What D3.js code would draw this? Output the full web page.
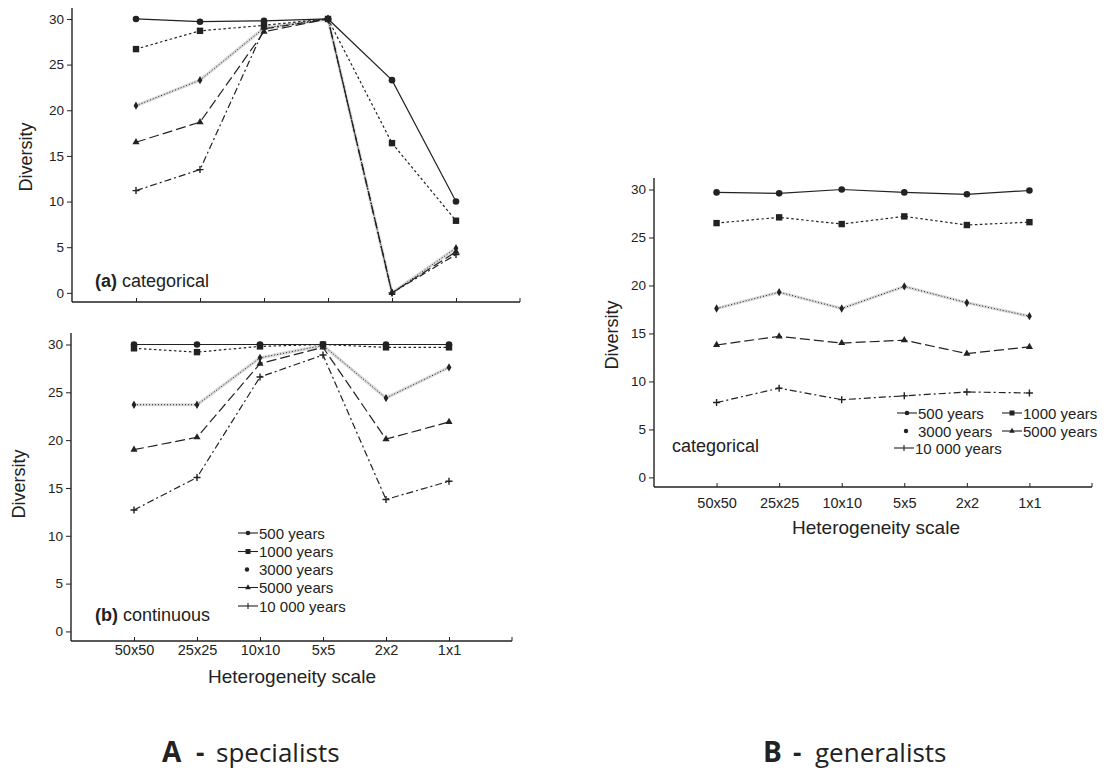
<!DOCTYPE html>
<html>
<head>
<meta charset="utf-8">
<script src="https://cdn.jsdelivr.net/npm/d3@7"></script>
<style>
  html, body { margin: 0; padding: 0; background: #fff; }
  svg { display: block; font-family: "Liberation Sans", Arial, Helvetica, sans-serif; }
</style>
</head>
<body>
<svg id="chart" width="1115" height="775"></svg>
<script>
// Heterogeneity scales (x categories) and simulation horizons (series)
const scales = ["50x50", "25x25", "10x10", "5x5", "2x2", "1x1"];
const periods = ["500 years", "1000 years", "3000 years", "5000 years", "10 000 years"];
const yTicks = [0, 5, 10, 15, 20, 25, 30];

// A (a) specialists, categorical landscape
const specCat500   = [30.0, 29.7, 29.8, 30.0, 23.3, 10.0];
const specCat1000  = [26.7, 28.7, 29.3, 30.0, 16.4, 7.9];
const specCat3000  = [20.5, 23.3, 29.0, 30.0, 0.0, 4.9];
const specCat5000  = [16.5, 18.7, 28.6, 30.0, 0.0, 4.5];
const specCat10000 = [11.2, 13.5, 28.9, 30.0, 0.0, 4.2];

// A (b) specialists, continuous landscape
const specCont500   = [30.0, 30.0, 30.0, 30.0, 30.0, 30.0];
const specCont1000  = [29.6, 29.2, 29.8, 30.0, 29.7, 29.7];
const specCont3000  = [23.7, 23.7, 28.6, 29.9, 24.4, 27.6];
const specCont5000  = [19.0, 20.3, 28.0, 29.7, 20.1, 21.9];
const specCont10000 = [12.7, 16.1, 26.6, 28.9, 13.8, 15.7];

// B generalists, categorical landscape
const genCat500   = [29.7, 29.6, 30.0, 29.7, 29.5, 29.9];
const genCat1000  = [26.5, 27.1, 26.4, 27.2, 26.3, 26.6];
const genCat3000  = [17.6, 19.3, 17.6, 19.9, 18.2, 16.8];
const genCat5000  = [13.8, 14.7, 14.0, 14.3, 12.9, 13.6];
const genCat10000 = [7.8, 9.3, 8.1, 8.5, 8.9, 8.8];

// Line and marker style per series (same order as periods)
const seriesStyle = [
  { dash: null,        marker: "circle",  halo: false },
  { dash: "2.5,2.5",   marker: "square",  halo: false },
  { dash: "1,2",       marker: "dot",     halo: true  },
  { dash: "10,4",      marker: "triangle",halo: false },
  { dash: "7,3,2,3",   marker: "plus",    halo: false }
];

const ink = "#222";
const svg = d3.select("#chart");
svg.append("rect").attr("width", 1115).attr("height", 775).attr("fill", "#fff");

function drawMarker(g, kind, cx, cy) {
  if (kind === "circle") {
    g.append("circle").attr("cx", cx).attr("cy", cy).attr("r", 3.3).attr("fill", ink);
  } else if (kind === "square") {
    g.append("rect").attr("x", cx - 3.2).attr("y", cy - 3.2).attr("width", 6.4).attr("height", 6.4).attr("fill", ink);
  } else if (kind === "dot") {
    g.append("path").attr("d", d3.symbol(d3.symbolDiamond, 20)()).attr("transform", `translate(${cx},${cy})`).attr("fill", ink);
  } else if (kind === "triangle") {
    g.append("path").attr("d", d3.symbol(d3.symbolTriangle, 22)()).attr("transform", `translate(${cx},${cy})`).attr("fill", ink);
  } else if (kind === "plus") {
    g.append("path").attr("d", `M${cx - 3.5},${cy}H${cx + 3.5}M${cx},${cy - 3.5}V${cy + 3.5}`)
      .attr("stroke", ink).attr("stroke-width", 1.4).attr("fill", "none");
  }
}

function drawPanel(cfg) {
  const g = svg.append("g");
  const x = d3.scalePoint().domain(scales).range(cfg.xr).padding(1);
  const y = d3.scaleLinear().domain([-1, 31.2]).range(cfg.yr);

  // y axis
  const ya = g.append("g").attr("transform", `translate(${cfg.xr[0]},0)`)
    .call(d3.axisLeft(y).tickValues(yTicks).tickSize(5).tickPadding(3));
  ya.select(".domain").remove();
  ya.selectAll(".tick line").attr("stroke", ink).attr("stroke-width", 1);
  ya.selectAll(".tick text").attr("font-size", 13.5).attr("fill", ink)
    .attr("font-family", "Liberation Sans, Arial, sans-serif");
  g.append("line").attr("x1", cfg.xr[0]).attr("x2", cfg.xr[0])
    .attr("y1", cfg.yr[1]).attr("y2", cfg.yr[0]).attr("stroke", ink).attr("stroke-width", 1.4);

  // x axis
  const xa = g.append("g").attr("transform", `translate(0,${cfg.yr[0]})`)
    .call(d3.axisBottom(x).tickSize(-4).tickPadding(cfg.xPad).tickFormat(cfg.xLabels ? (d => d) : (() => "")));
  xa.select(".domain").remove();
  xa.selectAll(".tick line").attr("stroke", ink).attr("stroke-width", 1);
  xa.selectAll(".tick text").attr("font-size", 14.5).attr("fill", ink)
    .attr("font-family", "Liberation Sans, Arial, sans-serif");
  g.append("line").attr("x1", cfg.xr[0]).attr("x2", cfg.xr[1])
    .attr("y1", cfg.yr[0]).attr("y2", cfg.yr[0]).attr("stroke", ink).attr("stroke-width", 1.4);
  g.append("line").attr("x1", cfg.xr[1]).attr("x2", cfg.xr[1])
    .attr("y1", cfg.yr[0]).attr("y2", cfg.yr[0] - 4).attr("stroke", ink).attr("stroke-width", 1);

  if (cfg.title) {
    g.append("text").attr("x", cfg.title[0]).attr("y", cfg.title[1]).attr("text-anchor", "middle")
      .attr("font-size", 19).attr("fill", ink).text("Heterogeneity scale");
  }
  g.append("text").attr("transform", `translate(${cfg.ylab[0]},${cfg.ylab[1]}) rotate(-90)`)
    .attr("text-anchor", "middle").attr("dominant-baseline", "central")
    .attr("font-size", 18).attr("fill", ink).text("Diversity");

  // series lines: soft grey underlay first, then the dashed strokes and markers
  const line = d3.line().x((d, i) => x(scales[i])).y(d => y(d));
  cfg.series.forEach((vals, k) => {
    const st = seriesStyle[k];
    if (st.halo) {
      g.append("path").attr("d", line(vals)).attr("fill", "none")
        .attr("stroke", "#dadada").attr("stroke-width", 3.2).attr("stroke-linejoin", "round");
    }
  });
  cfg.series.forEach((vals, k) => {
    const st = seriesStyle[k];
    g.append("path").attr("d", line(vals)).attr("fill", "none")
      .attr("stroke", ink).attr("stroke-width", st.halo ? 1.0 : 1.2)
      .attr("stroke-dasharray", st.dash);
    vals.forEach((v, i) => drawMarker(g, st.marker, x(scales[i]), y(v)));
  });

  // panel tag
  const t = g.append("text").attr("x", cfg.tag[0]).attr("y", cfg.tag[1]).attr("font-size", 18).attr("fill", ink);
  if (cfg.tag[2]) t.append("tspan").attr("font-weight", "bold").text(cfg.tag[2] + " ");
  t.append("tspan").text(cfg.tag[3]);

  // legend
  cfg.legend.forEach((pos, k) => {
    const [lx, ly] = pos;
    const st = seriesStyle[k];
    if (st.marker !== "dot") {
      g.append("line").attr("x1", lx).attr("x2", lx + 20).attr("y1", ly).attr("y2", ly)
        .attr("stroke", ink).attr("stroke-width", 1.1);
    }
    if (st.marker === "plus") {
      g.append("path").attr("d", `M${lx + 10},${ly - 3}V${ly + 3}`).attr("stroke", ink).attr("stroke-width", 1.1);
    } else if (st.marker === "dot") {
      g.append("circle").attr("cx", lx + 9).attr("cy", ly).attr("r", 2.2).attr("fill", ink);
    } else if (st.marker === "circle") {
      g.append("circle").attr("cx", lx + 10).attr("cy", ly).attr("r", 2.3).attr("fill", ink);
    } else if (st.marker === "square") {
      g.append("rect").attr("x", lx + 7.5).attr("y", ly - 2.5).attr("width", 5).attr("height", 5).attr("fill", ink);
    } else if (st.marker === "triangle") {
      g.append("path").attr("d", d3.symbol(d3.symbolTriangle, 14)()).attr("transform", `translate(${lx + 10},${ly})`).attr("fill", ink);
    }
    g.append("text").attr("x", lx + 21).attr("y", ly).attr("dominant-baseline", "central")
      .attr("font-size", 15).attr("fill", ink).text(periods[k]);
  });
}

drawPanel({
  xr: [72, 520], yr: [302, 8], xLabels: false, xPad: 4,
  series: [specCat500, specCat1000, specCat3000, specCat5000, specCat10000],
  ylab: [26, 157], title: null,
  tag: [95, 287, "(a)", "categorical"],
  legend: []
});

drawPanel({
  xr: [71, 512], yr: [641, 333], xLabels: true, xPad: 4,
  series: [specCont500, specCont1000, specCont3000, specCont5000, specCont10000],
  ylab: [19, 484], title: [292, 683],
  tag: [95, 621, "(b)", "continuous"],
  legend: [[238, 533], [238, 551.5], [238, 569.5], [238, 587.5], [238, 606]]
});

drawPanel({
  xr: [654, 1092], yr: [487, 178], xLabels: true, xPad: 11,
  series: [genCat500, genCat1000, genCat3000, genCat5000, genCat10000],
  ylab: [612, 335], title: [876, 534],
  tag: [672, 452, null, "categorical"],
  legend: [[897, 413], [1002, 413], [897, 431], [1002, 431], [894, 448]]
});

// group captions
const capA = svg.append("text").attr("y", 762).attr("font-family", "Open Sans, Noto Sans, sans-serif")
  .attr("font-size", 26).attr("fill", "#222");
capA.append("tspan").attr("x", 162).attr("font-weight", "bold").attr("font-size", 28).text("A");
capA.append("tspan").attr("x", 196).attr("font-weight", "bold").text("-");
capA.append("tspan").attr("x", 216).text("specialists");

const capB = svg.append("text").attr("y", 762).attr("font-family", "Open Sans, Noto Sans, sans-serif")
  .attr("font-size", 26).attr("fill", "#222");
capB.append("tspan").attr("x", 763).attr("font-weight", "bold").attr("font-size", 28).text("B");
capB.append("tspan").attr("x", 793).attr("font-weight", "bold").text("-");
capB.append("tspan").attr("x", 815).text("generalists");
</script>
</body>
</html>
